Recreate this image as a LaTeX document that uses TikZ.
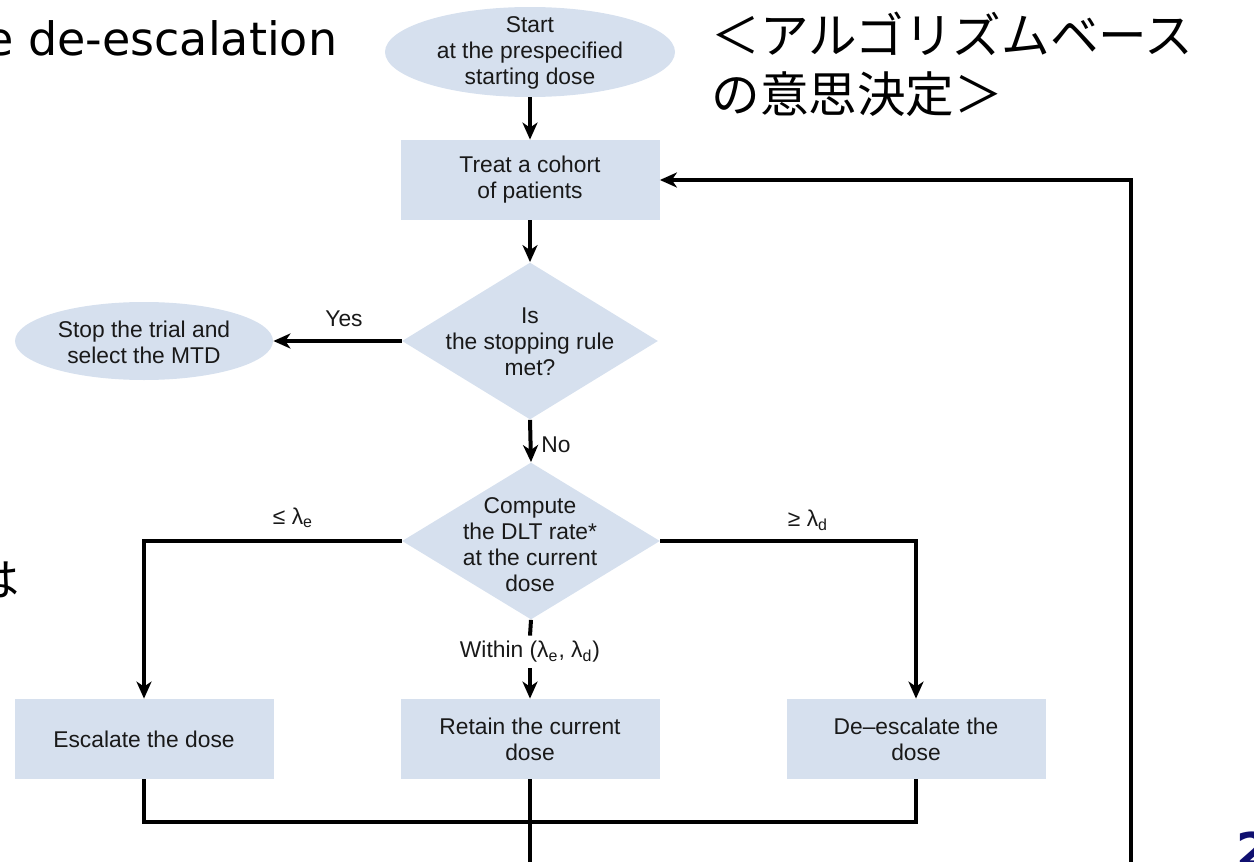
\documentclass[tikz,border=0pt]{standalone}
\usepackage{fontspec}
\setmainfont{Liberation Sans}
\newfontfamily\dejavu{DejaVu Sans}
\newfontfamily\cjk{Noto Sans CJK JP}
\usetikzlibrary{shapes.geometric,arrows.meta}
\definecolor{boxfill}{RGB}{214,224,238}
\definecolor{navy}{RGB}{16,16,112}
\definecolor{ink}{RGB}{25,25,25}
\begin{document}
\begin{tikzpicture}[x=0.5pt,y=-0.5pt,
  flow/.style={font=\fontsize{11.4}{13}\selectfont, text=ink, align=center, inner sep=0},
  boxn/.style={flow, rectangle, fill=boxfill, minimum width=129.5pt, minimum height=40pt},
  ell/.style={ellipse, fill=boxfill, inner sep=0},
  dia/.style={diamond, fill=boxfill, inner sep=0},
  conn/.style={line width=2pt, draw=black},
  arr/.style={conn, -{Stealth[length=8.5pt,width=7.5pt,inset=2.5pt]}}
]
\useasboundingbox (0,0) rectangle (1254,862);
\clip (0,0) rectangle (1254,862);

% side texts
\node[anchor=base west, inner sep=0, font=\dejavu\fontsize{23}{27}\selectfont] (title) at (-15,55) {e de-escalation};
\node[anchor=west, inner sep=0, font=\cjk\fontsize{24.3}{29}\selectfont] (jp1) at (711,34) {＜アルゴリズムベース};
\node[anchor=west, inner sep=0, font=\cjk\fontsize{24.3}{29}\selectfont] (jp2) at (711,94) {の意思決定＞};
\node[anchor=east, inner sep=0, font=\cjk\fontsize{22.5}{27}\selectfont] (ha) at (20,580) {は};
\node[anchor=base west, inner sep=0, text=navy, font=\dejavu\bfseries\fontsize{24}{29}\selectfont] (pg) at (1236,867) {2};

% shapes
\node[ell, minimum width=145pt, minimum height=45pt] (start) at (530,52) {};
\node[flow] (startt) at (530,53) {Start\\at the prespecified\\starting dose};
\node[boxn] (treat) at (530,180) {Treat a cohort\\of patients};
\node[dia, minimum width=128pt, minimum height=78.5pt] (d1) at (530,341) {};
\node[flow] (d1t) at (530,342) {Is\\the stopping rule\\met?};
\node[ell, minimum width=129pt, minimum height=39pt] (stop) at (144,341) {};
\node[flow] (stopt) at (144,342) {Stop the trial and\\select the MTD};
\node[dia, minimum width=129pt, minimum height=78.5pt] (d2) at (531,541) {};
\node[flow] (d2t) at (530,545) {Compute\\the DLT rate*\\at the current\\dose};
\node[boxn] (esc) at (144,739) {Escalate the dose};
\node[boxn] (retain) at (530,739) {Retain the current\\dose};
\node[boxn] (deesc) at (916,739) {De\textendash escalate the\\dose};

% connectors
\draw[arr] (start) -- (treat);
\draw[arr] (treat) -- (d1);
\draw[arr] (d1.west) -- (stop.east);
\node[flow] (yes) at (344,319) {Yes};
\draw[arr] (d1.south) -- (d2.north);
\node[flow, anchor=west] (no) at (541,445) {No};
\draw[arr] (d2.west) -| (esc.north);
\node[flow] (le) at (293,518) {≤ λ\textsubscript{e}};
\draw[arr] (d2.east) -| (deesc.north);
\node[flow] (ge) at (808,520) {≥ λ\textsubscript{d}};
\node[flow, minimum height=16pt] (within) at (530,652) {Within (λ\textsubscript{e}, λ\textsubscript{d})};
\draw[conn] (d2.south) -- (within.north);
\draw[arr] (within.south) -- (retain.north);

\coordinate (m) at (530,822);
\draw[conn] (esc.south) |- (m) -| (deesc.south);
\coordinate (rb) at (530,875);
\draw[conn] (retain.south) -- (rb);
\coordinate (lb) at (1131,875);
\draw[arr] (lb) |- (treat.east);
\end{tikzpicture}
\end{document}
